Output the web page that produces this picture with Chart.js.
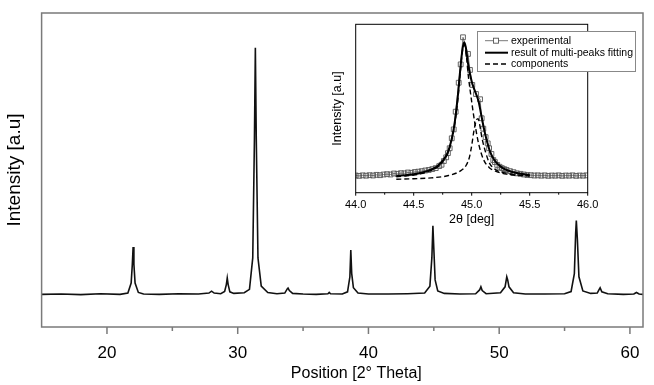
<!DOCTYPE html>
<html>
<head>
<meta charset="utf-8">
<script src="https://cdn.jsdelivr.net/npm/chart.js@4.4.1/dist/chart.umd.min.js"></script>
<style>
  body { margin: 0; background: #fff; }
  #wrap { position: relative; width: 654px; height: 385px; }
  #main { position: absolute; left: 0; top: 0; }
  #inset { position: absolute; left: 320px; top: 10px; }
</style>
</head>
<body>
<div id="wrap">
  <canvas id="main" width="654" height="385"></canvas>
  <canvas id="inset" width="334" height="225"></canvas>
</div>
<script>
// main pattern (2theta, intensity in arbitrary units 0..100)
const mainX = [15, 16.5, 18, 19.5, 21, 21.6, 21.85, 21.94, 22.0, 22.06, 22.15, 22.4, 22.8, 24, 25.5, 27, 27.8, 28.0, 28.2, 28.7,
  29.0, 29.13, 29.2, 29.27, 29.4, 29.7, 30.5, 30.9, 31.15, 31.28, 31.35, 31.42, 31.55, 31.8, 32.3, 33, 33.6, 33.8, 33.85, 33.95,
  34.2, 35, 36, 36.9, 37.0, 37.1, 38, 38.4, 38.58, 38.65, 38.72, 38.85, 39.2, 40, 41.5, 43, 44.3, 44.7, 44.85, 44.93,
  45.0, 45.1, 45.3, 45.8, 47, 48.2, 48.5, 48.6, 48.7, 49, 50.1, 50.45, 50.58, 50.65, 50.75, 51.1, 52, 53.5, 55, 55.5,
  55.75, 55.85, 55.9, 55.98, 56.1, 56.4, 57, 57.5, 57.65, 57.72, 57.85, 58.3, 59.5, 60.3, 60.5, 60.7, 61];
const mainY = [10.4, 10.5, 10.3, 10.6, 10.4, 10.8, 14, 20, 25.5, 20, 14, 11, 10.5, 10.4, 10.6, 10.5, 10.8, 11.4, 10.8, 10.6,
  11.3, 13.5, 15.6, 13.5, 11.2, 10.7, 10.9, 12, 22, 60, 88.9, 60, 22, 13, 11, 10.6, 10.8, 12.2, 12.4, 11.6,
  10.7, 10.5, 10.4, 10.6, 11.0, 10.6, 10.5, 11.2, 16, 24.5, 17, 12.5, 10.8, 10.5, 10.5, 10.6, 10.8, 13, 22, 32.2,
  25, 15, 11.5, 10.7, 10.5, 10.6, 11.8, 12.8, 11.6, 10.6, 10.9, 12.8, 16, 15, 12.8, 10.9, 10.5, 10.5, 10.6, 11.3,
  17, 30, 33.9, 28, 16, 11.5, 10.7, 10.8, 12, 12.5, 11.2, 10.6, 10.4, 10.5, 11.0, 10.5, 10.4];
const xMajor = [20, 30, 40, 50, 60];
const xMinor = [25, 35, 45, 55];

// inset: experimental points around 45 deg
const expX = [44.0, 44.03, 44.06, 44.09, 44.12, 44.15, 44.18, 44.21, 44.24, 44.27, 44.3, 44.33, 44.36, 44.39, 44.42, 44.45,
  44.48, 44.51, 44.54, 44.57, 44.6, 44.63, 44.66, 44.69, 44.72, 44.74, 44.76, 44.78, 44.795, 44.81, 44.828, 44.845, 44.862,
  44.888, 44.905, 44.925, 44.968, 44.985, 45.005, 45.037, 45.072, 45.086, 45.1, 45.12, 45.138, 45.15, 45.17, 45.186, 45.2,
  45.22, 45.24, 45.26, 45.28, 45.3, 45.33, 45.36, 45.39, 45.42, 45.45, 45.48, 45.51, 45.54, 45.57, 45.6, 45.63, 45.66,
  45.69, 45.72, 45.75, 45.78, 45.81, 45.84, 45.87, 45.9, 45.93, 45.96, 45.99];
const expY = [10.2, 10.0, 10.3, 10.1, 10.4, 10.2, 10.6, 10.4, 10.8, 11.0, 10.8, 11.4, 11.2, 11.6, 11.5, 12.0,
  11.8, 12.3, 12.5, 12.8, 13.2, 13.5, 14.0, 14.6, 15.8, 16.6, 18.8, 21.0, 23.5, 26.4, 32.3, 37.6, 48.1,
  65.3, 76.2, 92.3, 82.4, 72.9, 64.0, 58.6, 55.5, 44.2, 38.0, 33.0, 29.3, 26.4, 23.0, 19.4, 18.2,
  16.5, 15.4, 14.6, 14.0, 13.5, 12.8, 12.2, 11.5, 11.2, 10.8, 10.5, 10.4, 10.2, 10.3, 10.1, 10.3, 10.0,
  10.2, 10.1, 10.3, 10.0, 10.2, 10.1, 10.3, 10.0, 10.2, 10.1, 10.3];
const fitX = [44.35, 44.5, 44.6, 44.7, 44.75, 44.8, 44.85, 44.88, 44.9, 44.92, 44.935, 44.95, 44.97, 45.0, 45.03, 45.06,
  45.08, 45.1, 45.13, 45.16, 45.2, 45.25, 45.3, 45.4, 45.5];
const fitY = [10, 11, 12.5, 15.5, 19, 25, 40, 57, 72, 85, 89.3, 86, 76, 66, 60, 54, 47, 40, 31, 24, 19, 15.5, 13.5, 11.5, 10.5];
const comp1X = [44.35, 44.5, 44.6, 44.7, 44.75, 44.8, 44.85, 44.88, 44.9, 44.92, 44.935, 44.95, 44.97, 45.0, 45.03, 45.06,
  45.1, 45.15, 45.2, 45.3, 45.5];
const comp1Y = [9.5, 10.5, 12, 15, 18.5, 24.5, 39, 55, 70, 84, 88, 84, 70, 54, 40, 29, 20, 15, 13, 11, 10];
const comp2X = [44.35, 44.5, 44.65, 44.8, 44.9, 44.95, 44.98, 45.0, 45.02, 45.04, 45.055, 45.07, 45.09, 45.12, 45.15, 45.2, 45.3, 45.5];
const comp2Y = [8, 8.3, 8.8, 10.2, 12.8, 16, 21, 28, 37, 43, 44, 40, 32, 24, 18, 14, 11.5, 10];
const insetTicks = [44.0, 44.5, 45.0, 45.5, 46.0];
const insetMinor = [44.25, 44.75, 45.25, 45.75];

const FONT = '"Liberation Sans", Arial, sans-serif';
const GRAY = '#7a7a7a';
const pts = (xs, ys) => xs.map((x, i) => ({ x, y: ys[i] }));

function seg(ctx, x1, y1, x2, y2) {
    ctx.beginPath(); ctx.moveTo(x1, y1); ctx.lineTo(x2, y2); ctx.stroke();
}

const mainDeco = {
    id: 'mainDeco',
    afterDraw(chart) {
        const { ctx, chartArea: a, scales: { x } } = chart;
        ctx.save();
        ctx.strokeStyle = GRAY;
        ctx.lineWidth = 1.5;
        ctx.strokeRect(a.left, a.top, a.right - a.left, a.bottom - a.top);
        xMajor.forEach(v => seg(ctx, x.getPixelForValue(v), a.bottom, x.getPixelForValue(v), a.bottom + 7));
        xMinor.forEach(v => seg(ctx, x.getPixelForValue(v), a.bottom, x.getPixelForValue(v), a.bottom + 4));
        ctx.fillStyle = '#000';
        ctx.textAlign = 'center';
        ctx.textBaseline = 'middle';
        ctx.font = '16px ' + FONT;
        ctx.fillText('Position [2° Theta]', (a.left + a.right) / 2 + 14, 374);
        ctx.translate(15, 170);
        ctx.rotate(-Math.PI / 2);
        ctx.font = '19px ' + FONT;
        ctx.fillText('Intensity [a.u]', 0, 0);
        ctx.restore();
    }
};

new Chart(document.getElementById('main'), {
    type: 'line',
    data: {
        datasets: [{
            data: pts(mainX, mainY),
            borderColor: '#111',
            borderWidth: 1.6,
            pointRadius: 0,
            tension: 0
        }]
    },
    options: {
        responsive: false,
        animation: false,
        layout: { padding: { top: 13, right: 11, left: 0, bottom: 0 } },
        plugins: { legend: { display: false }, tooltip: { enabled: false } },
        scales: {
            x: {
                type: 'linear', min: 15, max: 61,
                afterBuildTicks: s => { s.ticks = xMajor.map(v => ({ value: v })); },
                afterFit: s => { s.height = 58; },
                grid: { display: false },
                border: { display: false },
                ticks: { color: '#000', font: { size: 17, family: FONT }, padding: 8, maxRotation: 0, autoSkip: false }
            },
            y: {
                min: 0, max: 100,
                afterFit: s => { s.width = 41.6; },
                grid: { display: false },
                border: { display: false },
                ticks: { display: false }
            }
        }
    },
    plugins: [mainDeco]
});

const insetDeco = {
    id: 'insetDeco',
    afterDraw(chart) {
        const { ctx, chartArea: a, scales: { x } } = chart;
        ctx.save();
        ctx.strokeStyle = '#000';
        ctx.lineWidth = 1;
        ctx.strokeRect(a.left, a.top, a.right - a.left, a.bottom - a.top);
        insetTicks.forEach(v => seg(ctx, x.getPixelForValue(v), a.bottom, x.getPixelForValue(v), a.bottom + 3));
        insetMinor.forEach(v => seg(ctx, x.getPixelForValue(v), a.bottom, x.getPixelForValue(v), a.bottom + 2));
        ctx.fillStyle = '#000';
        ctx.textAlign = 'center';
        ctx.textBaseline = 'middle';
        ctx.font = '12.5px ' + FONT;
        ctx.fillText('2θ [deg]', (a.left + a.right) / 2, 210);
        ctx.save();
        ctx.translate(18, (a.top + a.bottom) / 2);
        ctx.rotate(-Math.PI / 2);
        ctx.fillText('Intensity [a.u]', 0, 0);
        ctx.restore();

        // legend box
        const lx = 157, ly = 21, lw = 158, lh = 40;
        ctx.fillStyle = '#fff';
        ctx.fillRect(lx, ly, lw, lh);
        ctx.strokeStyle = '#888';
        ctx.lineWidth = 1;
        ctx.strokeRect(lx + 0.5, ly + 0.5, lw, lh);
        const rows = [9.7, 21.7, 33];
        ctx.font = '10.5px ' + FONT;
        ctx.textAlign = 'left';
        chart.data.datasets.filter(d => d.legendRow !== undefined).forEach(d => {
            const yy = ly + rows[d.legendRow];
            ctx.strokeStyle = d.borderColor;
            ctx.lineWidth = d.borderWidth;
            ctx.setLineDash(d.borderDash || []);
            seg(ctx, lx + 8, yy, lx + 31, yy);
            ctx.setLineDash([]);
            if (d.pointRadius > 0) {
                ctx.fillStyle = '#fff';
                ctx.fillRect(lx + 16.5, yy - 2.5, 5, 5);
                ctx.lineWidth = 0.9;
                ctx.strokeRect(lx + 16.5, yy - 2.5, 5, 5);
            }
            ctx.fillStyle = '#000';
            ctx.fillText(d.label, lx + 34, yy + 0.5);
        });
        ctx.restore();
    }
};

new Chart(document.getElementById('inset'), {
    type: 'line',
    data: {
        datasets: [
            {
                label: 'experimental', legendRow: 0, order: 3,
                data: pts(expX, expY),
                borderColor: '#555', borderWidth: 0.8,
                pointStyle: 'rect', pointRadius: 3.4,
                pointBorderColor: '#555', pointBackgroundColor: 'rgba(0,0,0,0)', pointBorderWidth: 0.9
            },
            {
                label: 'result of multi-peaks fitting', legendRow: 1, order: 1,
                data: pts(fitX, fitY),
                borderColor: '#000', borderWidth: 2, pointRadius: 0, cubicInterpolationMode: 'monotone'
            },
            {
                label: 'components', legendRow: 2, order: 2,
                data: pts(comp1X, comp1Y),
                borderColor: '#000', borderWidth: 1.4, borderDash: [5, 3], pointRadius: 0, cubicInterpolationMode: 'monotone'
            },
            {
                label: 'components', order: 2,
                data: pts(comp2X, comp2Y),
                borderColor: '#000', borderWidth: 1.4, borderDash: [5, 3], pointRadius: 0, cubicInterpolationMode: 'monotone'
            }
        ]
    },
    options: {
        responsive: false,
        animation: false,
        layout: { padding: { top: 14.3, right: 66.3, left: 0, bottom: 0 } },
        plugins: { legend: { display: false }, tooltip: { enabled: false } },
        scales: {
            x: {
                type: 'linear', min: 44, max: 46,
                afterBuildTicks: s => { s.ticks = insetTicks.map(v => ({ value: v })); },
                afterFit: s => { s.height = 42.3; },
                grid: { display: false },
                border: { display: false },
                ticks: { color: '#000', font: { size: 11, family: FONT }, padding: -2, maxRotation: 0, autoSkip: false,
                    callback: v => v.toFixed(1) }
            },
            y: {
                min: 0, max: 100,
                afterFit: s => { s.width = 35.7; },
                grid: { display: false },
                border: { display: false },
                ticks: { display: false }
            }
        }
    },
    plugins: [insetDeco]
});
</script>
</body>
</html>
